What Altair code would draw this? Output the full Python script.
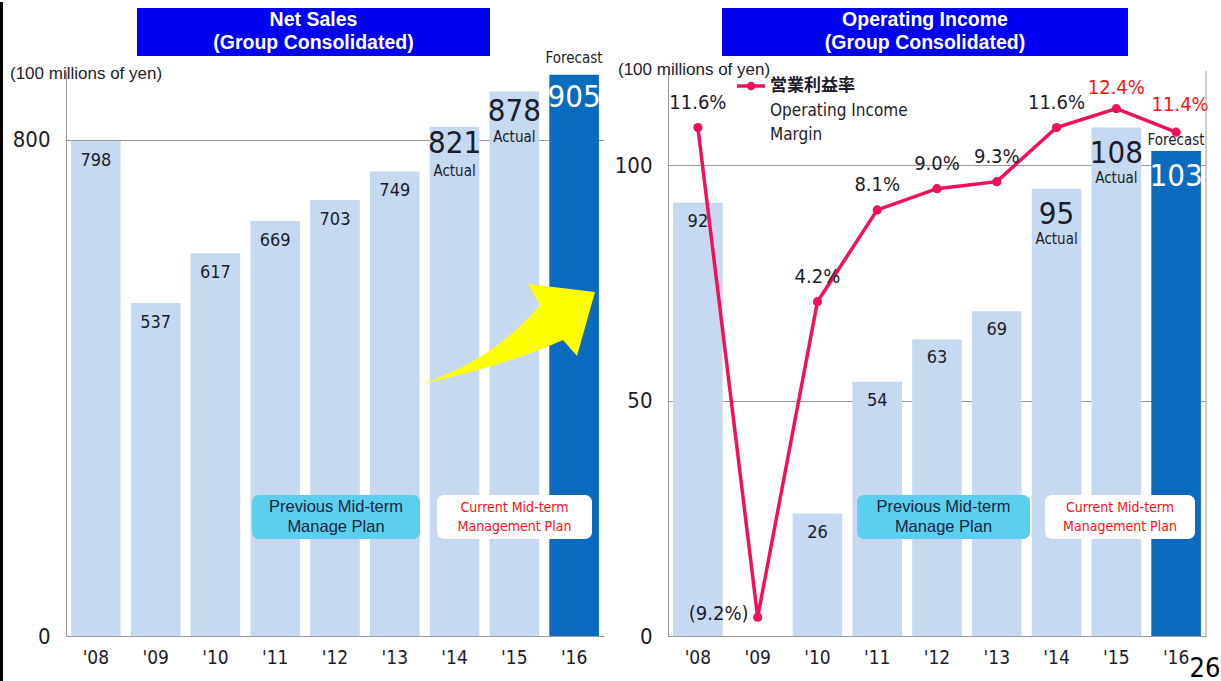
import altair as alt
import pandas as pd

# ---------------- data ----------------
years = ["'08", "'09", "'10", "'11", "'12", "'13", "'14", "'15", "'16"]
net_sales = [798, 537, 617, 669, 703, 749, 821, 878, 905]
op_income = [92, None, 26, 54, 63, 69, 95, 108, 103]
op_margin = [11.6, -9.2, 4.2, 8.1, 9.0, 9.3, 11.6, 12.4, 11.4]
margin_text = ["11.6%", "(9.2%)", "4.2%", "8.1%", "9.0%", "9.3%", "11.6%", "12.4%", "11.4%"]
kind = ["Actual"] * 8 + ["Forecast"]

small_years = ["'08", "'09", "'10", "'11", "'12", "'13"]
actual_years = ["'14", "'15"]
forecast_years = ["'16"]

df = pd.DataFrame({
    "year": years, "sales": net_sales, "income": op_income,
    "margin": op_margin, "mtext": margin_text, "kind": kind,
})
df_inc = df.dropna(subset=["income"])

# ---------------- style ----------------
FONT = "'DejaVu Sans Condensed', 'Liberation Sans', sans-serif"
FONT_W = "'Liberation Sans', Arial, sans-serif"
TXT = "#1c1c2a"
LIGHT = "#c6d9f0"
DARK = "#0b6cbf"
GRID = "#9a9a9a"
PINK = "#f2105c"
TITLE_BLUE = "#0000f2"
CYAN = "#5ccff0"
RED = "#ff1010"

W, H = 538, 565
one = pd.DataFrame({"a": [0]})

xscale = alt.Scale(paddingInner=0.17, paddingOuter=0.085)
xaxis = alt.Axis(title=None, labelAngle=0, ticks=False, domainColor=GRID,
                 labelFontSize=19, labelPadding=12, labelColor=TXT, labelFont=FONT)


def title_box(x1, x2, text):
    box = alt.Chart(one).mark_rect(color=TITLE_BLUE).encode(
        x=alt.value(x1), x2=alt.value(x2), y=alt.value(-63), y2=alt.value(-15))
    t = alt.Chart(one).mark_text(color="white", font=FONT_W, fontWeight="bold", fontSize=19.5,
                                 lineBreak="\n", lineHeight=23, baseline="middle").encode(
        x=alt.value((x1 + x2) / 2), y=alt.value(-51), text=alt.value(text))
    return box + t


def plan_boxes(cx1, cx2, wx1, wx2):
    cyan = alt.Chart(one).mark_rect(color=CYAN, cornerRadius=7).encode(
        x=alt.value(cx1), x2=alt.value(cx2), y=alt.value(424), y2=alt.value(468))
    white = alt.Chart(one).mark_rect(color="white", cornerRadius=7).encode(
        x=alt.value(wx1), x2=alt.value(wx2), y=alt.value(424), y2=alt.value(468))
    t1 = alt.Chart(one).mark_text(color="#1a2440", font=FONT_W, fontSize=16.5, lineBreak="\n",
                                  lineHeight=20, baseline="middle").encode(
        x=alt.value((cx1 + cx2) / 2), y=alt.value(436), text=alt.value("Previous Mid-term\nManage Plan"))
    t2 = alt.Chart(one).mark_text(color=RED, font=FONT, fontSize=14, lineBreak="\n",
                                  lineHeight=19, baseline="middle").encode(
        x=alt.value((wx1 + wx2) / 2), y=alt.value(437), text=alt.value("Current Mid-term\nManagement Plan"))
    return cyan + white + t1 + t2


unit_note = "(100 millions of yen)"

# ---------------- left: net sales ----------------
yl = alt.Y("sales:Q", scale=alt.Scale(domain=[0, 911], nice=False),
           axis=alt.Axis(title=None, values=[0, 800], ticks=False, domainColor=GRID, gridColor=GRID,
                         labelFontSize=22, labelPadding=16, labelFont=FONT, labelColor=TXT))
base_l = alt.Chart(df).encode(x=alt.X("year:N", sort=years, scale=xscale, axis=xaxis), y=yl)

bars_l = base_l.mark_bar().encode(
    color=alt.Color("kind:N", scale=alt.Scale(domain=["Actual", "Forecast"], range=[LIGHT, DARK]), legend=None))
small_l = base_l.mark_text(font=FONT, fontSize=18, color=TXT, dy=20).encode(text="sales:Q").transform_filter(
    alt.FieldOneOfPredicate(field="year", oneOf=small_years))
big14_l = base_l.mark_text(font=FONT, fontSize=31, color=TXT, dy=17).encode(text="sales:Q").transform_filter(
    alt.FieldOneOfPredicate(field="year", oneOf=["'14"]))
big15_l = base_l.mark_text(font=FONT, fontSize=31, color=TXT, dy=21).encode(text="sales:Q").transform_filter(
    alt.FieldOneOfPredicate(field="year", oneOf=["'15"]))
act14_l = base_l.mark_text(font=FONT, fontSize=15, color=TXT, dy=44).encode(text="kind:N").transform_filter(
    alt.FieldOneOfPredicate(field="year", oneOf=["'14"]))
act15_l = base_l.mark_text(font=FONT, fontSize=15, color=TXT, dy=46).encode(text="kind:N").transform_filter(
    alt.FieldOneOfPredicate(field="year", oneOf=["'15"]))
fc_l = base_l.mark_text(font=FONT, fontSize=31, color="white", dy=23).encode(text="sales:Q").transform_filter(
    alt.FieldOneOfPredicate(field="year", oneOf=forecast_years))
fcl_l = base_l.mark_text(font=FONT, fontSize=15, color=TXT, dy=-17).encode(text="kind:N").transform_filter(
    alt.FieldOneOfPredicate(field="year", oneOf=forecast_years))

arrow_path = ("M -0.88 0.52 Q -0.15 0.27 0.30 -0.27 L 0.18 -0.48 L 0.85 -0.40 L 0.67 0.24 "
              "L 0.53 0.08 Q 0.0 0.32 -0.88 0.52 Z")
arrow = alt.Chart(one).mark_point(shape=arrow_path, filled=True, color="#ffff00", opacity=1,
                                  size=40000, strokeWidth=0).encode(
    x=alt.value(444), y=alt.value(261))

note_l = alt.Chart(one).mark_text(font=FONT_W, fontSize=17, color=TXT, align="left").encode(
    x=alt.value(-56), y=alt.value(3), text=alt.value(unit_note))
border_l = alt.Chart(one).mark_rule(color="black", strokeWidth=3).encode(
    x=alt.value(-64.5), y=alt.value(-69), y2=alt.value(612))

left = alt.layer(
    bars_l, small_l, big14_l, big15_l, act14_l, act15_l, fc_l, fcl_l,
    plan_boxes(186, 354, 371, 526), arrow,
    title_box(71, 424, "Net Sales\n(Group Consolidated)"), note_l, border_l,
).properties(width=W, height=H)

# ---------------- right: operating income ----------------
yr = alt.Y("income:Q", scale=alt.Scale(domain=[0, 120], nice=False),
           axis=alt.Axis(title=None, values=[0, 50, 100], ticks=False, domainColor=GRID, gridColor=GRID,
                         labelFontSize=22, labelPadding=16, labelFont=FONT, labelColor=TXT))
base_r = alt.Chart(df_inc).encode(x=alt.X("year:N", sort=years, scale=xscale, axis=xaxis), y=yr)
bars_r = base_r.mark_bar().encode(
    color=alt.Color("kind:N", scale=alt.Scale(domain=["Actual", "Forecast"], range=[LIGHT, DARK]), legend=None))
small_r = base_r.mark_text(font=FONT, fontSize=18, color=TXT, dy=19).encode(text="income:Q").transform_filter(
    alt.FieldOneOfPredicate(field="year", oneOf=small_years))
big_r = base_r.mark_text(font=FONT, fontSize=31, color=TXT, dy=26).encode(text="income:Q").transform_filter(
    alt.FieldOneOfPredicate(field="year", oneOf=actual_years))
act_r = base_r.mark_text(font=FONT, fontSize=15, color=TXT, dy=50).encode(text="kind:N").transform_filter(
    alt.FieldOneOfPredicate(field="year", oneOf=actual_years))
fc_r = base_r.mark_text(font=FONT, fontSize=31, color="white", dy=26).encode(text="income:Q").transform_filter(
    alt.FieldOneOfPredicate(field="year", oneOf=forecast_years))
fcl_r = base_r.mark_text(font=FONT, fontSize=15, color=TXT, dy=-11).encode(text="kind:N").transform_filter(
    alt.FieldOneOfPredicate(field="year", oneOf=forecast_years))

bars_block = alt.layer(bars_r, small_r, big_r, act_r, fc_r, fcl_r)

ym = alt.Y("margin:Q", scale=alt.Scale(domain=[-10, 14], nice=False), axis=None)
base_m = alt.Chart(df).encode(x=alt.X("year:N", sort=years, scale=xscale, axis=xaxis), y=ym)
line_m = base_m.mark_line(color=PINK, strokeWidth=3.5)
pts_m = base_m.mark_circle(color=PINK, size=85, opacity=1)
lab_m = base_m.mark_text(font=FONT, fontSize=20, color=TXT, dy=-25).encode(text="mtext:N").transform_filter(
    alt.FieldOneOfPredicate(field="year", oneOf=["'08", "'10", "'11", "'12", "'13", "'14"]))
lab_neg = base_m.mark_text(font=FONT, fontSize=20, color=TXT, dx=-39, dy=-3).encode(text="mtext:N").transform_filter(
    alt.FieldOneOfPredicate(field="year", oneOf=["'09"]))
lab_15 = base_m.mark_text(font=FONT, fontSize=20, color=RED, dy=-21).encode(text="mtext:N").transform_filter(
    alt.FieldOneOfPredicate(field="year", oneOf=["'15"]))
lab_16 = base_m.mark_text(font=FONT, fontSize=20, color=RED, dx=4, dy=-27).encode(text="mtext:N").transform_filter(
    alt.FieldOneOfPredicate(field="year", oneOf=["'16"]))
line_block = alt.layer(line_m, pts_m, lab_m, lab_neg, lab_15, lab_16)

leg_line = alt.Chart(one).mark_rule(color=PINK, strokeWidth=3.5).encode(
    x=alt.value(69), x2=alt.value(97), y=alt.value(15))
leg_dot = alt.Chart(one).mark_point(color=PINK, filled=True, size=70, opacity=1).encode(
    x=alt.value(83), y=alt.value(15))
leg_jp = alt.Chart(one).mark_text(font="'Noto Sans CJK JP', sans-serif", fontSize=17, fontWeight="bold",
                                  color=TXT, align="left").encode(
    x=alt.value(102), y=alt.value(15), text=alt.value("営業利益率"))
leg_en = alt.Chart(one).mark_text(font=FONT, fontSize=17, color=TXT, align="left", lineBreak="\n",
                                  lineHeight=24, baseline="middle").encode(
    x=alt.value(102), y=alt.value(40), text=alt.value("Operating Income\nMargin"))
frame_r = alt.Chart(one).mark_rule(color=GRID, strokeWidth=1).encode(
    x=alt.value(W), y=alt.value(0), y2=alt.value(H))
note_r = alt.Chart(one).mark_text(font=FONT_W, fontSize=17, color=TXT, align="left").encode(
    x=alt.value(-50), y=alt.value(-1), text=alt.value(unit_note))
page_no = alt.Chart(one).mark_text(font=FONT, fontSize=27, color="black").encode(
    x=alt.value(537), y=alt.value(598), text=alt.value("26"))

right = alt.layer(
    bars_block, line_block,
    plan_boxes(189, 362, 377, 527),
    leg_line, leg_dot, leg_jp, leg_en, frame_r,
    title_box(54, 460, "Operating Income\n(Group Consolidated)"), note_r, page_no,
).resolve_scale(y="independent").properties(width=W, height=H)

chart = alt.hconcat(left, right, spacing=64, bounds="flush").properties(
    padding=0, background="white"
).configure_view(stroke=None)

chart.save("out.html", embed_options={"renderer": "svg", "actions": False})
